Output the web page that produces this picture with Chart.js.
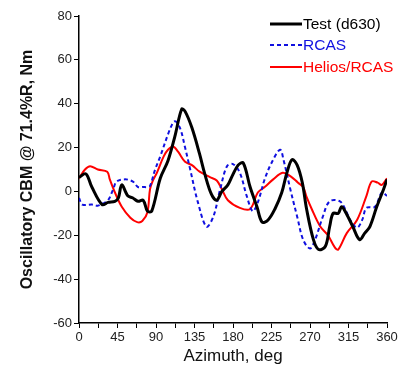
<!DOCTYPE html>
<html>
<head>
<meta charset="utf-8">
<script src="https://cdn.jsdelivr.net/npm/chart.js@4"></script>
<style>
  html, body { margin: 0; padding: 0; background: #fff; }
  #wrap { width: 406px; height: 370px; position: relative; }
</style>
</head>
<body>
<div id="wrap"><canvas id="cbmChart"></canvas></div>
<script>
// azimuth (deg) and oscillatory CBM (Nm)
const testAz  = [0, 8, 15, 27, 34, 42, 46, 50, 57, 63, 69, 75, 80, 85, 95, 104, 112, 120, 124, 132, 141, 147, 155, 161, 167, 174, 179, 186, 192, 200, 208, 214, 221, 229, 237, 243, 249, 255, 261, 266, 274, 280, 288, 293, 297, 303, 307, 313, 320, 328, 334, 340, 348, 356, 360];
const testVal = [6.4, 8, 2, -6, -5, -4.5, -3, 3, -2, -3, -4.5, -4, -9, -9, 6, 14, 25, 37.5, 36.5, 29, 17, 8, -1.5, -4, 0, 3, 7, 12, 13, 2, -7, -14, -13, -8, -0.5, 8.5, 14.5, 12, 4, -8, -22, -26.5, -25, -16, -10, -10, -7, -10.5, -16, -22, -19, -16, -7, 1, 5.5];

const rcasAz  = [0, 4, 15, 22, 28, 34, 40, 44, 54, 63, 69, 75, 80, 83, 89, 95, 106, 112, 118, 124, 130, 139, 149, 157, 165, 173, 180, 188, 196, 203, 209, 217, 225, 235, 239, 247, 255, 262, 270, 276, 285, 293, 305, 311, 317, 325, 331, 336, 346, 354, 360];
const rcasVal = [-3, -6, -6, -6.5, -5.5, -4, 1, 4.5, 5.5, 4.5, 2, 2, 2, 2.5, 10, 16, 28, 32, 29, 20, 10, -5, -16, -11.5, 1, 11.5, 12.5, 8.5, -2, -9, -5, 5.5, 13, 19, 14.5, 1, -11.5, -22, -26, -22, -11.5, -4.5, -4.5, -8, -13, -16.5, -13, -7.5, -7, -0.5, -2];

const heliosAz  = [0, 7, 13, 22, 33, 36, 42, 50, 60, 68, 74, 80, 83, 87, 91, 99, 104, 110, 116, 124, 132, 141, 153, 161, 167, 174, 188, 200, 209, 217, 227, 238, 247, 256, 262, 266, 272, 282, 291, 299, 303, 313, 325, 336, 342, 349, 354, 360];
const heliosVal = [6, 10, 11.5, 10, 9, 5.5, -0.5, -7, -12, -14, -13.5, -9.5, 1, 5.5, 8.5, 16, 19, 20.5, 18, 13.5, 12, 9, 6.5, 5, 1, -4, -7.5, -8, -0.5, 2, 5.5, 8.5, 7, 4, 2, -2.5, -8, -16, -20, -25.5, -26.5, -19, -13, -2, 4.5, 4, 3, 6];

const xTicks = [0, 45, 90, 135, 180, 225, 270, 315, 360];
const yTicks = [80, 60, 40, 20, 0, -20, -40, -60];

function pts(az, val) {
  return az.map((a, i) => ({ x: a, y: val[i] }));
}

const FONT = "'Liberation Sans', Arial, sans-serif";

const series = [
  { label: 'Test (d630)', data: pts(testAz, testVal), color: '#000000', width: 3, dash: [] },
  { label: 'RCAS', data: pts(rcasAz, rcasVal), color: '#1010e0', width: 2, dash: [4, 3] },
  { label: 'Helios/RCAS', data: pts(heliosAz, heliosVal), color: '#ff0000', width: 2, dash: [] }
];

// legend drawn inside the plot, top right
const insideLegend = {
  id: 'insideLegend',
  afterDraw(chart) {
    const ctx = chart.ctx;
    const rows = [24, 45, 67];
    ctx.save();
    ctx.font = '15.5px ' + FONT;
    ctx.textBaseline = 'middle';
    series.forEach((s, i) => {
      ctx.strokeStyle = s.color;
      ctx.lineWidth = s.width;
      ctx.setLineDash(s.dash);
      ctx.beginPath();
      ctx.moveTo(270, rows[i]);
      ctx.lineTo(302, rows[i]);
      ctx.stroke();
      ctx.setLineDash([]);
      ctx.fillStyle = s.color;
      ctx.fillText(s.label, 303, rows[i] + 1);
    });
    ctx.restore();
  }
};

new Chart(document.getElementById('cbmChart'), {
  type: 'line',
  data: {
    datasets: series.map(s => ({
      label: s.label,
      data: s.data,
      borderColor: s.color,
      borderWidth: s.width,
      borderDash: s.dash,
      pointRadius: 0,
      tension: 0.35,
      fill: false
    }))
  },
  options: {
    responsive: true,
    maintainAspectRatio: false,
    animation: false,
    layout: { padding: { top: 16, right: 19, left: 0, bottom: 0 } },
    plugins: {
      legend: { display: false },
      tooltip: { enabled: false }
    },
    scales: {
      x: {
        type: 'linear',
        min: 0,
        max: 360,
        afterBuildTicks(axis) {
          const t = [];
          for (let v = 0; v <= 360; v += 22.5) t.push({ value: v });
          axis.ticks = t;
        },
        afterFit(axis) { axis.height = 47; },
        ticks: {
          autoSkip: false,
          maxRotation: 0,
          color: '#222',
          font: { family: FONT, size: 13 },
          padding: 2,
          callback: v => xTicks.includes(v) ? String(v) : ''
        },
        grid: {
          drawOnChartArea: false,
          tickLength: 5,
          tickColor: '#000',
          tickWidth: 1
        },
        border: { color: '#000', width: 1.5 },
        title: {
          display: true,
          text: 'Azimuth, deg',
          color: '#111',
          font: { family: FONT, size: 17 },
          padding: { top: 0, bottom: 3 }
        }
      },
      y: {
        min: -60,
        max: 80,
        afterBuildTicks(axis) {
          axis.ticks = yTicks.map(v => ({ value: v }));
        },
        afterFit(axis) { axis.width = 79; },
        ticks: {
          color: '#222',
          font: { family: FONT, size: 13 },
          padding: 2
        },
        grid: {
          drawOnChartArea: false,
          tickLength: 5,
          tickColor: '#000',
          tickWidth: 1
        },
        border: { color: '#000', width: 1.5 },
        title: {
          display: true,
          text: 'Oscillatory CBM @ 71.4%R, Nm',
          color: '#111',
          font: { family: FONT, size: 16, weight: 'bold' },
          padding: { top: 18, bottom: 0 }
        }
      }
    }
  },
  plugins: [insideLegend]
});
</script>
</body>
</html>
